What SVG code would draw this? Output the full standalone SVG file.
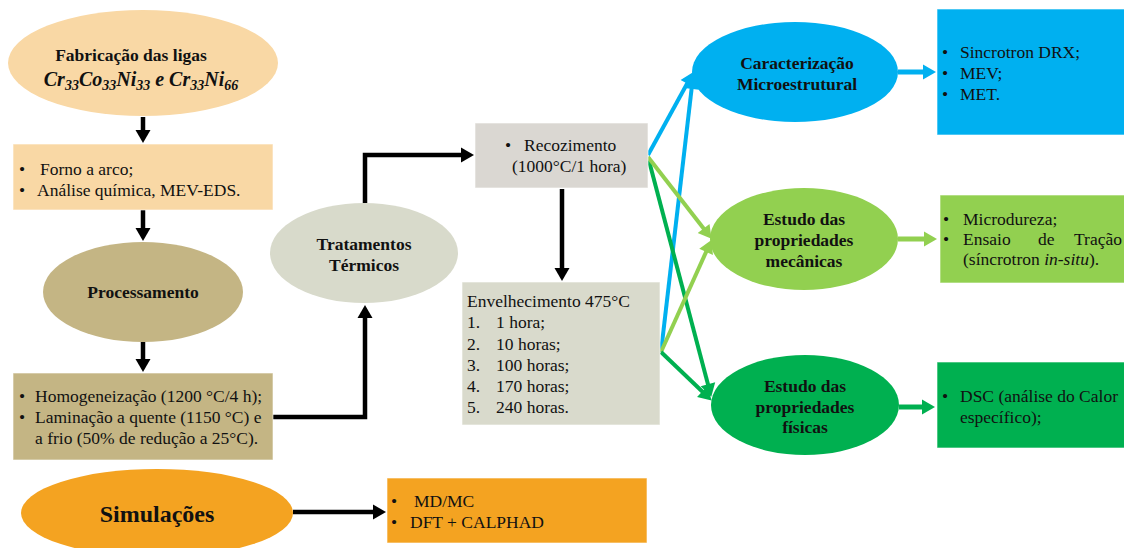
<svg xmlns="http://www.w3.org/2000/svg" width="1124" height="548" viewBox="0 0 1124 548">
<style>
text{font-family:"Liberation Serif","Times New Roman",serif;fill:#111;}
.t{font-size:17.5px;}
.b{font-size:17.5px;font-weight:bold;text-anchor:middle;}
.m{font-size:20px;font-weight:bold;font-style:italic;text-anchor:middle;}
.sub{font-size:14px;}
.blk{fill:none;stroke:#000;stroke-width:4.5;}
.blue{fill:none;stroke:#00B0F0;stroke-width:4;}
.lg{fill:none;stroke:#92D050;stroke-width:4;}
.dg{fill:none;stroke:#00B050;stroke-width:4;}
.box{stroke:#fff;stroke-width:1;stroke-opacity:0.6;}
</style>
<defs>
<marker id="ak" markerUnits="userSpaceOnUse" markerWidth="14" markerHeight="16" viewBox="0 0 13 16" refX="8" refY="8" orient="auto"><path d="M0,0.5 L13,8 L0,15.5 z" fill="#000"/></marker>
<marker id="ab" markerUnits="userSpaceOnUse" markerWidth="14" markerHeight="16" viewBox="0 0 13 16" refX="8" refY="8" orient="auto"><path d="M0,0.5 L13,8 L0,15.5 z" fill="#00B0F0"/></marker>
<marker id="al" markerUnits="userSpaceOnUse" markerWidth="14" markerHeight="16" viewBox="0 0 13 16" refX="8" refY="8" orient="auto"><path d="M0,0.5 L13,8 L0,15.5 z" fill="#92D050"/></marker>
<marker id="ad" markerUnits="userSpaceOnUse" markerWidth="14" markerHeight="16" viewBox="0 0 13 16" refX="8" refY="8" orient="auto"><path d="M0,0.5 L13,8 L0,15.5 z" fill="#00B050"/></marker>
</defs>

<g id="connectors">
<line class="blk" x1="143" y1="117" x2="143" y2="138" marker-end="url(#ak)"/>
<line class="blk" x1="143" y1="210" x2="143" y2="236" marker-end="url(#ak)"/>
<line class="blk" x1="143" y1="342" x2="143" y2="367" marker-end="url(#ak)"/>
<polyline class="blk" points="273,417 365,417 365,310" marker-end="url(#ak)"/>
<polyline class="blk" points="365,203 365,155 469,155" marker-end="url(#ak)"/>
<line class="blk" x1="562" y1="189" x2="562" y2="276" marker-end="url(#ak)"/>
<line class="blk" x1="293" y1="512" x2="381" y2="512" marker-end="url(#ak)"/>
<line class="blue" x1="661" y1="352" x2="692.5" y2="81" marker-end="url(#ab)"/>
<line class="dg" x1="648" y1="157" x2="710" y2="392" marker-end="url(#ad)"/>
<line class="lg" x1="648" y1="157" x2="708.5" y2="234.8" marker-end="url(#al)"/>
<line class="blue" x1="648" y1="155" x2="691" y2="76.5" marker-end="url(#ab)"/>
<line class="lg" x1="661" y1="352" x2="709.4" y2="244.6" marker-end="url(#al)"/>
<line class="dg" x1="661" y1="352" x2="708" y2="397" marker-end="url(#ad)"/>
<line class="blue" style="stroke-width:5" x1="898" y1="72" x2="931" y2="72" marker-end="url(#ab)"/>
<line class="lg" style="stroke-width:5" x1="898" y1="239" x2="932" y2="239" marker-end="url(#al)"/>
<line class="dg" style="stroke-width:5" x1="899" y1="407" x2="930" y2="407" marker-end="url(#ad)"/>
</g>

<g id="fabricacao">
<ellipse cx="143" cy="63" rx="135" ry="53" fill="#F9D8A5"/>
<text class="b" x="131" y="61">Fabricação das ligas</text>
<text class="m" x="141" y="86">Cr<tspan class="sub" dy="4">33</tspan><tspan dy="-4">Co</tspan><tspan class="sub" dy="4">33</tspan><tspan dy="-4">Ni</tspan><tspan class="sub" dy="4">33</tspan><tspan dy="-4"> e Cr</tspan><tspan class="sub" dy="4">33</tspan><tspan dy="-4">Ni</tspan><tspan class="sub" dy="4">66</tspan></text>
</g>

<g id="forno">
<rect class="box" x="13" y="144" width="260" height="66" fill="#F9D8A5"/>
<text class="t" x="19" y="175">•</text><text class="t" x="40" y="175">Forno a arco;</text>
<text class="t" x="19" y="196">•</text><text class="t" x="37" y="196">Análise química, MEV-EDS.</text>
</g>

<g id="processamento">
<ellipse cx="143" cy="292" rx="100" ry="50" fill="#C4B584"/>
<text class="b" x="143" y="298">Processamento</text>
</g>

<g id="homogeneizacao">
<rect class="box" x="13" y="373" width="260" height="87" fill="#C4B584"/>
<text class="t" x="19" y="402">•</text><text class="t" x="35" y="402">Homogeneização (1200 °C/4 h);</text>
<text class="t" x="19" y="423">•</text><text class="t" x="35" y="423">Laminação a quente (1150 °C) e</text>
<text class="t" x="35" y="444">a frio (50% de redução a 25°C).</text>
</g>

<g id="tratamentos">
<ellipse cx="364" cy="253" rx="94" ry="50" fill="#D8DACB"/>
<text class="b" x="364" y="250">Tratamentos</text>
<text class="b" x="364" y="271">Térmicos</text>
</g>

<g id="recozimento">
<rect class="box" x="475" y="123" width="173" height="65" fill="#DAD7D2"/>
<text class="t" x="505" y="151">•</text><text class="t" x="524" y="151">Recozimento</text>
<text class="t" x="512" y="172">(1000°C/1 hora)</text>
</g>

<g id="envelhecimento">
<rect class="box" x="462" y="282" width="198" height="143" fill="#D9DACC"/>
<text class="t" x="467" y="307">Envelhecimento 475°C</text>
<text class="t" x="467" y="328">1.</text><text class="t" x="496" y="328">1 hora;</text>
<text class="t" x="467" y="350">2.</text><text class="t" x="496" y="350">10 horas;</text>
<text class="t" x="467" y="371">3.</text><text class="t" x="496" y="371">100 horas;</text>
<text class="t" x="467" y="392">4.</text><text class="t" x="496" y="392">170 horas;</text>
<text class="t" x="467" y="413">5.</text><text class="t" x="496" y="413">240 horas.</text>
</g>

<g id="caracterizacao">
<ellipse cx="795" cy="72" rx="103" ry="50" fill="#00B0F0"/>
<text class="b" x="797" y="69">Caracterização</text>
<text class="b" x="797" y="90">Microestrutural</text>
</g>

<g id="lista-caracterizacao">
<rect class="box" x="937" y="9" width="190" height="126" fill="#00B0F0"/>
<text class="t" x="942" y="58">•</text><text class="t" x="960" y="58">Sincrotron DRX;</text>
<text class="t" x="942" y="79">•</text><text class="t" x="960" y="79">MEV;</text>
<text class="t" x="942" y="100">•</text><text class="t" x="960" y="100">MET.</text>
</g>

<g id="mecanicas">
<ellipse cx="804" cy="239" rx="94" ry="51" fill="#92D050"/>
<text class="b" x="804" y="225">Estudo das</text>
<text class="b" x="804" y="246">propriedades</text>
<text class="b" x="804" y="267">mecânicas</text>
</g>

<g id="lista-mecanicas">
<rect class="box" x="940" y="195" width="187" height="88" fill="#92D050"/>
<text class="t" x="943" y="225">•</text><text class="t" x="963" y="225">Microdureza;</text>
<text class="t" x="943" y="245">•</text><text class="t" x="963" y="245">Ensaio</text><text class="t" x="1038" y="245">de</text><text class="t" x="1074" y="245">Tração</text>
<text class="t" x="963" y="265">(síncrotron <tspan font-style="italic">in-situ</tspan>).</text>
</g>

<g id="fisicas">
<ellipse cx="805" cy="405" rx="94" ry="50" fill="#00B050"/>
<text class="b" x="805" y="392">Estudo das</text>
<text class="b" x="805" y="413">propriedades</text>
<text class="b" x="805" y="433">físicas</text>
</g>

<g id="lista-fisicas">
<rect class="box" x="937" y="362" width="190" height="86" fill="#00B050"/>
<text class="t" x="942" y="402">•</text><text class="t" x="960" y="402">DSC (análise do Calor</text>
<text class="t" x="960" y="423">específico);</text>
</g>

<g id="simulacoes">
<ellipse cx="157" cy="513" rx="136" ry="44" fill="#F4A321"/>
<text x="157" y="522" style="font-size:24px;font-weight:bold;text-anchor:middle">Simulações</text>
</g>

<g id="lista-simulacoes">
<rect class="box" x="387" y="478" width="260" height="65" fill="#F4A321"/>
<text class="t" x="391" y="507">•</text><text class="t" x="414" y="507">MD/MC</text>
<text class="t" x="391" y="528">•</text><text class="t" x="410" y="528">DFT + CALPHAD</text>
</g>
</svg>
